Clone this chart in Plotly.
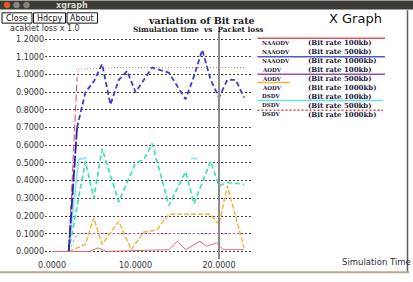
import plotly.graph_objects as go

# ---------------- data ----------------
x_ticks = [0, 10, 20]

red_top_x = [2, 3, 3.1, 8, 23]
red_top_y = [0.0, 0.98, 1.03, 1.04, 1.04]

blue_x = [2, 3, 3.5, 4, 5, 6, 7, 8, 9, 10, 12, 14, 16, 17, 18, 19, 20, 21, 22, 23]
blue_y = [0.0, 0.70, 0.81, 0.90, 0.96, 1.06, 0.83, 0.97, 1.02, 0.90, 1.04, 1.01,
          0.86, 0.99, 1.14, 0.97, 0.87, 0.97, 0.97, 0.87]

mint_x = [2, 4, 5, 6, 8, 10, 11, 12, 14, 16, 17, 19, 20, 21, 23]
mint_y = [0.0, 0.51, 0.30, 0.58, 0.28, 0.50, 0.52, 0.61, 0.26, 0.45, 0.27, 0.51,
          0.37, 0.39, 0.38]

cyan_x = [2, 3.2, 4.2, 10, 16.6, 17.4]
cyan_y = [0.0, 0.52, 0.53, None, 0.525, 0.525]

orange_x = [2, 4, 5, 6, 8, 9.5, 11, 12.5, 14, 19, 20, 21, 23]
orange_y = [0.0, 0.04, 0.19, 0.04, 0.17, 0.01, 0.11, 0.12, 0.21, 0.21, 0.15, 0.37, 0.02]

pink_x = [2, 3, 23]
pink_y = [0.0, 0.10, 0.10]

red_x = [0, 2, 4.5, 5.5, 6.5, 14, 15, 16, 17.7, 18.5, 19.7, 20.5, 23]
red_y = [0.0, 0.0, 0.0, 0.02, 0.0, 0.01, 0.057, 0.01, 0.057, 0.03, 0.048, 0.01, 0.01]

legend_names = ["NAAODV", "NAAODV", "NAAODV", "AODV", "AODV", "AODV",
                "DSDV", "DSDV", "DSDV"]
legend_rates = ["(Bit rate 100kb)", "(Bit rate 500kb)", "(Bit rate 1000kb)",
                "(Bit rate 100kb)", "(Bit rate 500kb)", "(Bit rate 1000kb)",
                "(Bit rate 100kb)", "(Bit rate 500kb)", "(Bit rate 1000kb)"]

# ---------------- layout helpers (pixel -> paper) ----------------
L, T, W, H = 45, 31, 208, 232


def px(x):
    return (x - L) / W


def py(y):
    return (T + H - y) / H


fig = go.Figure()


def add(x, y, color, width, dash="solid"):
    fig.add_trace(go.Scatter(x=x, y=y, mode="lines", connectgaps=False,
                             line=dict(color=color, width=width, dash=dash),
                             hoverinfo="skip"))


add(pink_x, pink_y, "#d98ad2", 1, "3px,2px")
add(red_x, red_y, "#e2677a", 1)
add(orange_x, orange_y, "#f2b545", 1.5, "5px,2px")
add(mint_x, mint_y, "#3ee3a6", 1.7, "5px,3px")
add(cyan_x, cyan_y, "#80e4f2", 1.5)
add(red_top_x[:2], red_top_y[:2], "#e05a5a", 1.1, "7px,3px")
add(red_top_x[1:], red_top_y[1:], "#e37c7c", 1, "1px,2px")
add(blue_x[:2], blue_y[:2], "#2323b8", 1.8, "12px,2px")
add(blue_x[1:], blue_y[1:], "#3c3cc8", 1.8, "5px,3px")

tick_font = dict(family="DejaVu Sans", size=8, color="#333333")

fig.update_layout(
    width=413, height=282,
    margin=dict(l=L, r=413 - L - W, t=T, b=282 - T - H, pad=0),
    paper_bgcolor="white", plot_bgcolor="white",
    showlegend=False,
    xaxis=dict(range=[-0.838, 24.07], tickvals=x_ticks,
               ticktext=[f"{v:.4f}" for v in x_ticks],
               showgrid=False, zeroline=False, showline=False, ticks="",
               tickfont=tick_font),
    yaxis=dict(range=[-0.0428, 1.2461], tick0=0, dtick=0.1, tickformat=".4f",
               showgrid=True, gridcolor="#3c3c3c", griddash="2px,2px",
               gridwidth=1, zeroline=False, showline=False, ticks="",
               tickfont=tick_font),
)

shapes = []
# vertical gray marker line at x=20
shapes.append(dict(type="line", xref="x", yref="paper", x0=20, x1=20,
                   y0=0, y1=1, line=dict(color="#8c8c8c", width=2)))
# window title bar
shapes.append(dict(type="rect", xref="paper", yref="paper", x0=px(0), x1=px(413),
                   y0=py(9), y1=py(0), fillcolor="#3c3b37", line=dict(width=0),
                   layer="above"))
for cx, col in [(7, "#e9541f"), (16.5, "#8a877f"), (26.5, "#8a877f")]:
    shapes.append(dict(type="circle", xref="paper", yref="paper",
                       x0=px(cx - 3.2), x1=px(cx + 3.2), y0=py(7.8), y1=py(1.4),
                       fillcolor=col, line=dict(width=0), layer="above"))
# buttons
for x0, x1 in [(2, 32), (33.5, 65.5), (67, 97.5)]:
    shapes.append(dict(type="rect", xref="paper", yref="paper", x0=px(x0), x1=px(x1),
                       y0=py(23), y1=py(12.5), fillcolor="white",
                       line=dict(color="#111111", width=1)))
# window borders
shapes.append(dict(type="line", xref="paper", yref="paper", x0=px(407.5), x1=px(407.5),
                   y0=py(276), y1=py(10), line=dict(color="#5a5a5a", width=1.5)))
shapes.append(dict(type="line", xref="paper", yref="paper", x0=px(0), x1=px(409),
                   y0=py(276.5), y1=py(276.5), line=dict(color="#b9a98c", width=2)))
# legend sample lines
for y, x1, col, dash in [(38.3, 385, "#e05555", "solid"),
                         (57.3, 385, "#5454c8", "solid"),
                         (75, 385, "#8452c2", "solid"),
                         (83.3, 290, "#f0b545", "solid"),
                         (101.7, 383, "#66e2f2", "solid"),
                         (111.7, 383, "#e04848", "2px,2px")]:
    shapes.append(dict(type="line", xref="paper", yref="paper", x0=px(257.5), x1=px(x1),
                       y0=py(y), y1=py(y), line=dict(color=col, width=1.5, dash=dash)))

ann = []


def text(x, y, s, size, family="DejaVu Sans", color="#222222", xanchor="center"):
    ann.append(dict(xref="paper", yref="paper", x=px(x), y=py(y), text=s,
                    showarrow=False, xanchor=xanchor, yanchor="middle",
                    font=dict(family=family, size=size, color=color)))


text(71.5, 4.8, "<b>xgraph</b>", 8, color="#dcd8cf")
text(17, 17.8, "Close", 8, color="#111111")
text(49.5, 17.8, "Hdcpy", 8, color="#111111")
text(82.3, 17.8, "About", 8, color="#111111")
text(201, 20, "<b>variation of Bit rate</b>", 9.5, family="DejaVu Serif", color="#1a1a1a")
text(198, 29.3, "<b>Simulation time  vs  Packet loss</b>", 7.3, family="DejaVu Serif",
     color="#1a1a1a")
text(355, 18.5, "X Graph", 13, color="#111111")
text(8, 28.5, "acaklet loss x 1.0", 8, color="#333333", xanchor="left")
text(340, 266, "Simulation Time", 8.5, color="#333333", xanchor="left")

for i, (nm, rt) in enumerate(zip(legend_names, legend_rates)):
    yy = 43 + 9.1 * i
    text(260, yy, f"<b>{nm}</b>", 5.5, family="DejaVu Serif", color="#1c1c3a",
         xanchor="left")
    text(306, yy, f"<b>{rt}</b>", 7, family="DejaVu Serif", color="#1c1c3a",
         xanchor="left")

fig.update_layout(shapes=shapes, annotations=ann)

fig.write_html("out.html")
